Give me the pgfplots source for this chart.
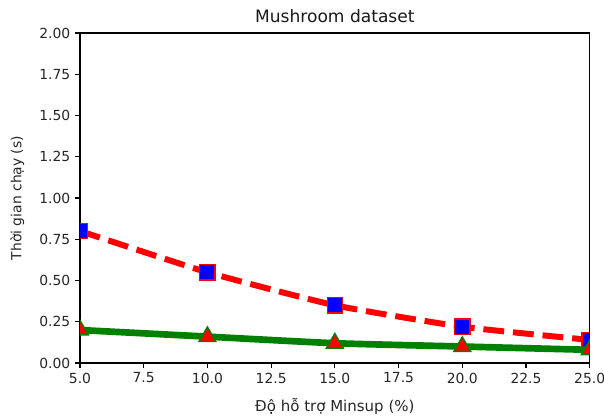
\documentclass[border=0pt]{standalone}
\usepackage{pgfplots}
\pgfplotsset{compat=1.18}
\usepackage{fontspec}
\setmainfont{DejaVu Sans}
\definecolor{mplgreen}{RGB}{0,128,0}
\begin{document}
\begin{tikzpicture}
\begin{axis}[
  name=ax,
  scale only axis,
  width=367pt, height=237.6pt,
  xmin=5, xmax=25, ymin=0, ymax=2,
  xtick={5,7.5,10,12.5,15,17.5,20,22.5,25},
  ytick={0,0.25,0.5,0.75,1,1.25,1.5,1.75,2},
  xticklabel style={/pgf/number format/.cd,fixed,fixed zerofill,precision=1},
  yticklabel style={/pgf/number format/.cd,fixed,fixed zerofill,precision=2},
  /pgf/number format/assume math mode=true,
  tick label style={font=\fontsize{10}{12}\selectfont, color=black!85},
  label style={font=\fontsize{10}{12}\selectfont, color=black!85},
  title style={font=\fontsize{12.3}{14}\selectfont, color=black!90, yshift=-2pt},
  title={Mushroom dataset},
  xlabel={Độ hỗ trợ Minsup (\%)},
  ylabel={Thời gian chạy (s)},
  tick align=outside,
  xtick pos=bottom, ytick pos=left,
  major tick length=3.5pt,
  every tick/.style={black, line width=0.8pt},
  axis line style={line width=0.8pt},
  clip marker paths=true,
  xlabel style={yshift=-4pt, font=\fontsize{10.8}{12}\selectfont},
  ylabel style={yshift=4pt},
]
\addplot[red, line width=4.3pt, dash pattern=on 15pt off 6.4pt, smooth, tension=0.3,
  mark=square*, mark size=5.5pt,
  mark options={solid, fill=blue, draw=red, line width=1pt}]
  coordinates {(5,0.80) (10,0.55) (15,0.35) (20,0.22) (25,0.14)};
\addplot[mplgreen, line width=4.8pt, smooth, tension=0.3,
  mark=triangle*, mark size=7pt,
  mark options={solid, fill=red, draw=mplgreen, line width=1pt}]
  coordinates {(5,0.20) (10,0.16) (15,0.12) (20,0.10) (25,0.08)};
\end{axis}
\pgfresetboundingbox
\useasboundingbox ([xshift=-57.6pt,yshift=-41pt]ax.south west) rectangle ([xshift=377.3pt,yshift=23.8pt]ax.north west);
\end{tikzpicture}
\end{document}
